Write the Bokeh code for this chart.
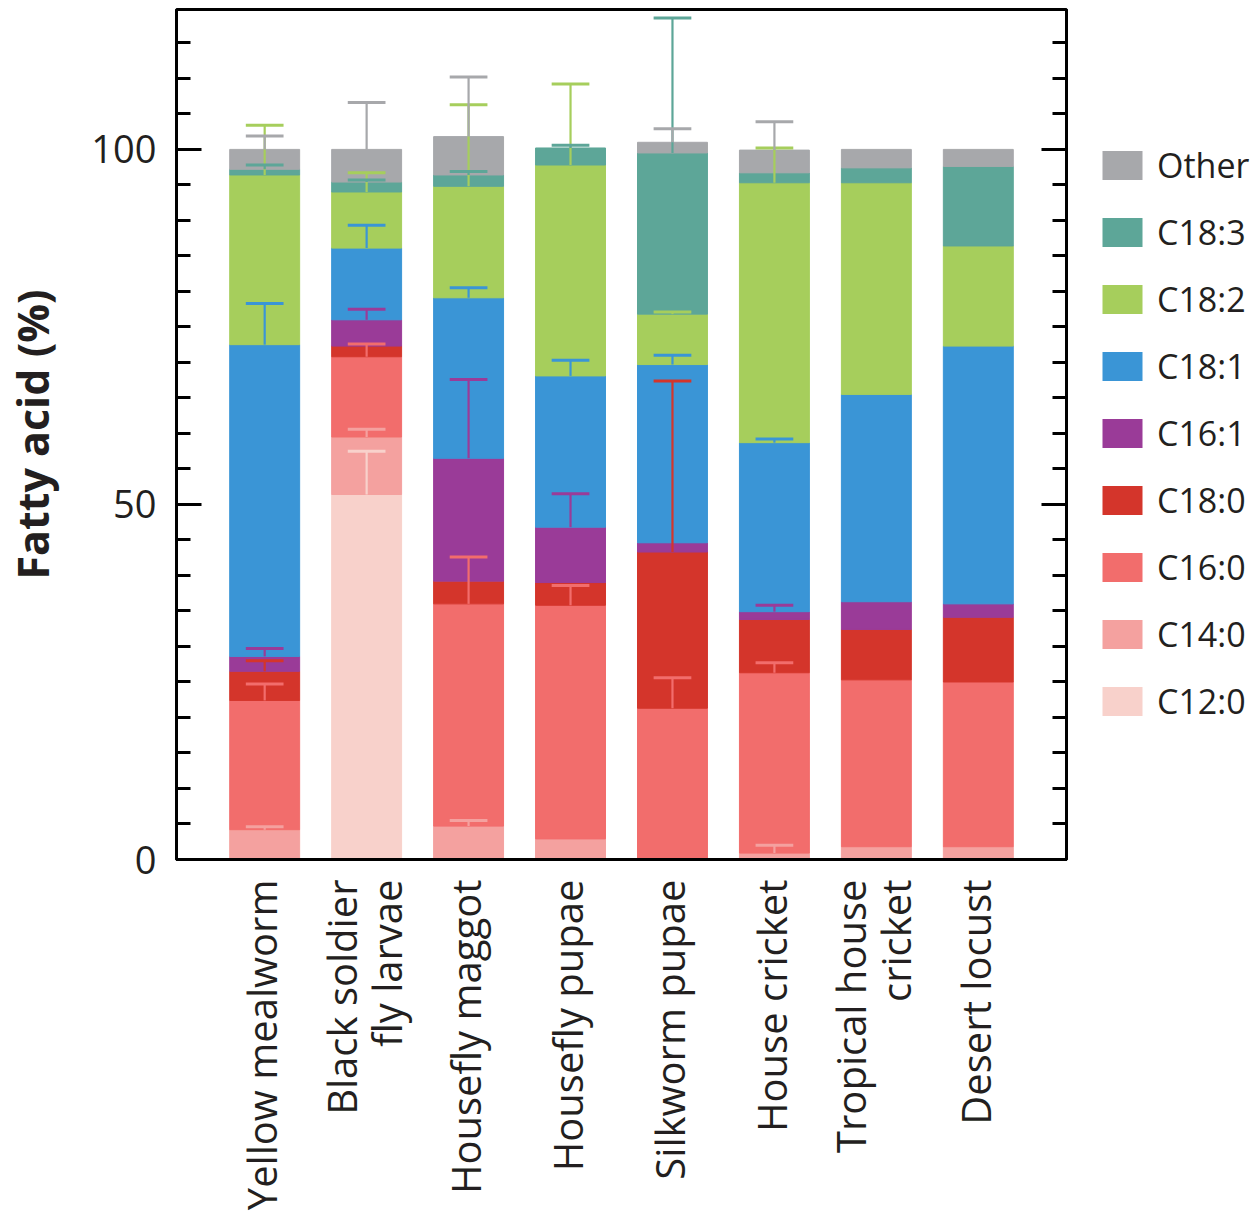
import math
import numpy as np
from bokeh.plotting import figure
from bokeh.layouts import row
from bokeh.models import (Range1d, LinearAxis, SingleIntervalTicker,
                          FixedTicker, Legend, LegendItem, ColumnDataSource)
from bokeh.embed import file_html
from bokeh.resources import INLINE

# ---------------- data ----------------
categories = ["Yellow mealworm", "Black soldier fly larvae", "Housefly maggot",
              "Housefly pupae", "Silkworm pupae", "House cricket",
              "Tropical house cricket", "Desert locust"]
tick_labels = ["Yellow mealworm", "Black soldier\nfly larvae", "Housefly maggot",
               "Housefly pupae", "Silkworm pupae", "House cricket",
               "Tropical house\ncricket", "Desert locust"]

series_names = ["C12:0", "C14:0", "C16:0", "C18:0", "C16:1", "C18:1", "C18:2", "C18:3", "Other"]

C12_0 = [0.0, 51.4, 0.0, 0.0, 0.0, 0.0, 0.0, 0.0]
C14_0 = [4.2, 8.1, 4.7, 2.9, 0.0, 0.9, 1.8, 1.8]
C16_0 = [18.2, 11.3, 31.3, 32.9, 21.3, 25.4, 23.5, 23.2]
C18_0 = [4.1, 1.5, 3.2, 3.2, 22.0, 7.5, 7.1, 9.1]
C16_1 = [2.1, 3.7, 17.3, 7.8, 1.3, 1.1, 3.9, 1.9]
C18_1 = [43.9, 10.1, 22.6, 21.3, 25.1, 23.8, 29.2, 36.3]
C18_2 = [23.9, 7.9, 15.7, 29.7, 7.1, 36.6, 29.8, 14.1]
C18_3 = [0.8, 1.4, 1.6, 2.4, 22.7, 1.4, 2.1, 11.2]
Other = [2.8, 4.6, 5.4, 0.0, 1.5, 3.2, 2.6, 2.4]

C12_0_err = [0.0, 6.1, 0.0, 0.0, 0.0, 0.0, 0.0, 0.0]
C14_0_err = [0.4, 1.1, 0.8, 0.0, 0.0, 1.1, 0.0, 0.0]
C16_0_err = [2.3, 1.8, 6.6, 2.8, 4.3, 1.4, 0.0, 0.0]
C18_0_err = [1.5, 0.0, 0.0, 0.0, 24.1, 0.0, 0.0, 0.0]
C16_1_err = [1.1, 1.5, 11.1, 4.7, 0.0, 0.9, 0.0, 0.0]
C18_1_err = [5.8, 3.2, 1.4, 2.2, 1.3, 0.5, 0.0, 0.0]
C18_2_err = [7.0, 2.7, 11.5, 11.4, 0.3, 4.9, 0.0, 0.0]
C18_3_err = [0.6, 0.3, 0.5, 0.4, 19.0, 0.0, 0.0, 0.0]
Other_err = [1.9, 6.6, 8.4, 0.0, 1.9, 4.0, 0.0, 0.0]

colors = ["#F8D1CB", "#F4A19F", "#F26D6C", "#D4352B", "#9A3B98",
          "#3A95D6", "#A6CE5C", "#5DA698", "#A7A8AB"]

values = [C12_0, C14_0, C16_0, C18_0, C16_1, C18_1, C18_2, C18_3, Other]
errors = [C12_0_err, C14_0_err, C16_0_err, C18_0_err, C16_1_err,
          C18_1_err, C18_2_err, C18_3_err, Other_err]

FONT = "Open Sans"
TXT = "#231F20"
PAD = 0.365

n_cat = len(categories)
xpos = np.arange(n_cat) + 0.5   # slot centre of each category

# ---------------- main figure ----------------
p = figure(x_range=Range1d(-PAD, n_cat + PAD), y_range=Range1d(0, 119.7),
           frame_width=890, frame_height=850,
           min_border_left=174, min_border_right=30, min_border_top=9, min_border_bottom=0,
           output_backend="svg", toolbar_location=None)
p.xgrid.visible = False
p.ygrid.visible = False
p.outline_line_color = "black"
p.outline_line_width = 3
p.background_fill_color = "white"
p.border_fill_color = "white"

bottoms = np.zeros(n_cat)
for name, vals, col in zip(series_names, values, colors):
    vals = np.array(vals)
    tops = bottoms + vals
    mask = vals > 0
    src = ColumnDataSource(dict(x=xpos[mask], bottom=bottoms[mask], top=tops[mask]))
    p.vbar(x="x", bottom="bottom", top="top", width=0.686, source=src,
           fill_color=col, line_color=col, line_width=1)
    bottoms = tops

# error bars
bottoms = np.zeros(n_cat)
for name, vals, errs, col in zip(series_names, values, errors, colors):
    vals = np.array(vals)
    errs = np.array(errs)
    tops = bottoms + vals
    mask = errs > 0
    src = ColumnDataSource(dict(x=xpos[mask], xl=xpos[mask] - 0.185, xr=xpos[mask] + 0.185,
                                y0=tops[mask], y1=(tops + errs)[mask]))
    p.segment(x0="x", x1="x", y0="y0", y1="y1", source=src, line_color=col, line_width=2.2)
    p.segment(x0="xl", x1="xr", y0="y1", y1="y1", source=src, line_color=col, line_width=3)
    bottoms = tops

# ---------------- axes ----------------
ya = p.yaxis[0]
ya.ticker = SingleIntervalTicker(interval=50, num_minor_ticks=10)
ya.major_tick_in = 25
ya.major_tick_out = 0
ya.minor_tick_in = 14
ya.minor_tick_out = 0
ya.major_tick_line_width = 3
ya.minor_tick_line_width = 3
ya.major_tick_line_color = "black"
ya.minor_tick_line_color = "black"
ya.axis_line_width = 3
ya.axis_line_color = "black"
ya.major_label_text_font = FONT
ya.major_label_text_font_size = "38px"
ya.major_label_text_color = TXT
ya.major_label_standoff = 20
ya.axis_label = "Fatty acid (%)"
ya.axis_label_text_font = FONT
ya.axis_label_text_font_size = "43px"
ya.axis_label_text_font_style = "bold"
ya.axis_label_text_color = TXT
ya.axis_label_standoff = 26

ry = LinearAxis(ticker=SingleIntervalTicker(interval=50, num_minor_ticks=10),
                major_tick_in=25, major_tick_out=0, minor_tick_in=14, minor_tick_out=0,
                major_tick_line_width=3, minor_tick_line_width=3,
                axis_line_width=3, major_label_text_font_size="11px",
                major_label_text_color=None, major_label_standoff=0)
p.add_layout(ry, "right")

# category labels: one tick per text line, labels given by overrides
tick_pos = []
overrides = {}
for i, lab in enumerate(tick_labels):
    lines = lab.split("\n")
    for j, line in enumerate(lines):
        pos = round(float(xpos[i]) + (j - (len(lines) - 1) / 2) * 0.44 - 0.03, 2)
        tick_pos.append(pos)
        overrides[pos] = line
        overrides["%.2f" % pos] = line
        overrides[("%.2f" % pos).rstrip("0").rstrip(".")] = line
xa = p.xaxis[0]
xa.ticker = FixedTicker(ticks=tick_pos)
xa.major_label_overrides = overrides
xa.major_label_orientation = math.pi / 2
xa.major_tick_line_color = None
xa.major_tick_in = 0
xa.major_tick_out = 0
xa.minor_tick_line_color = None
xa.axis_line_width = 3
xa.axis_line_color = "black"
xa.major_label_text_font = FONT
xa.major_label_text_font_size = "40px"
xa.major_label_text_color = TXT
xa.major_label_standoff = 20

# ---------------- legend (side figure) ----------------
lg = figure(width=160, height=1209, x_range=Range1d(0, 1), y_range=Range1d(0, 1),
            min_border=0, output_backend="svg", toolbar_location=None)
lg.axis.visible = False
lg.grid.visible = False
lg.outline_line_color = None
items = []
for name, col in zip(series_names, colors):
    # zero-size swatch carrier: only its legend entry is visible
    r = lg.vbar(x=[0.5], bottom=[0.0], top=[0.0], width=0.0, fill_color=col, line_color=None)
    items.append(LegendItem(label=name, renderers=[r]))
items = items[::-1]
legend = Legend(items=items, location=(1, 131), margin=0, padding=0,
                glyph_width=50, glyph_height=36, label_standoff=10, spacing=21,
                label_text_font=FONT, label_text_font_size="34px", label_text_color=TXT,
                border_line_color=None, background_fill_alpha=0)
lg.add_layout(legend)

layout = row(p, lg, spacing=0)
open("out.html", "w").write(file_html(layout, INLINE))
